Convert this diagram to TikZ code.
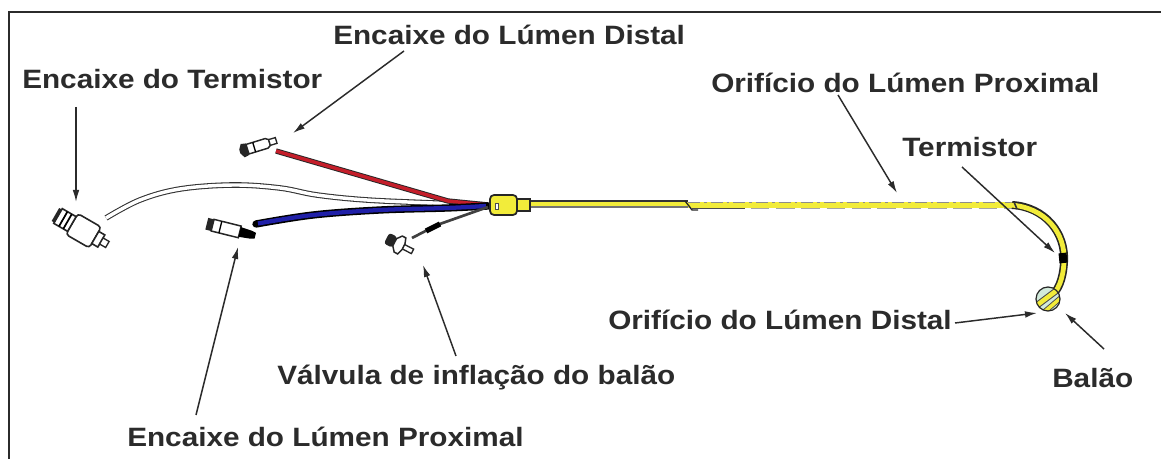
\documentclass[tikz,border=0pt]{standalone}
\usepackage{fontspec}
\setmainfont{Liberation Sans}[FakeStretch=1.12]
\usetikzlibrary{arrows.meta}
\definecolor{ink}{HTML}{2B2B2B}
\definecolor{tubeyellow}{HTML}{F2EC3A}
\definecolor{tubered}{HTML}{C41E2A}
\definecolor{tubeblue}{HTML}{2020A8}
\definecolor{balloonfill}{HTML}{D2EADB}

\begin{document}
\begin{tikzpicture}[x=0.75pt,y=-0.75pt,
  lbl/.style={anchor=base west,inner sep=0pt,text=ink,
    font=\fontsize{19.9pt}{24pt}\selectfont\bfseries},
  pointer/.style={draw=ink,line width=1.1pt,-{Latex[length=9pt,width=5pt]}},
  outline/.style={draw=black!85,line width=1pt},
]
\useasboundingbox (0,0) rectangle (1161,459);
\clip (0,0) rectangle (1161,459);
\fill[white] (0,0) rectangle (1161,459);

% frame
\draw[ink,line width=1.5pt] (8.5,470) -- (8.5,12.5) -- (1175,12.5);

% ---------- cables on the left ----------
% thermistor cable (white, outlined)
\draw[black!80,line width=0.8pt,double=white,double distance=2.6pt]
  plot[smooth,tension=0.6] coordinates {(106,218) (140,200) (180,189) (233,185) (280,188) (317,195) (367,200) (433,203) (488,205)};
% distal lumen line (red)
\draw[black!85,line width=0.7pt,double=tubered,double distance=2.6pt]
  (276,151) -- (448,201) -- (488,205);
% proximal lumen line (blue)
\draw[black,line width=5.5pt,line cap=round]
  plot[smooth,tension=0.6] coordinates {(256,224) (313,215) (380,210) (447,208) (488,206)};
\draw[tubeblue,line width=3.2pt]
  plot[smooth,tension=0.6] coordinates {(258,223.5) (313,215) (380,210) (447,208) (486,206)};
% balloon inflation line
\draw[black!75,line width=2pt] (412,238) -- (437,225) -- (488,207);
\draw[black,line width=4pt] (426,231) -- (440,224);

% ---------- fittings ----------
% thermistor connector
\begin{scope}[shift={(84,231)},rotate=-30]
  \draw[outline,fill=white,line width=1.2pt,rounded corners=2.5pt] (-14,-12) rectangle (13,12);
  \draw[outline,fill=white,line width=1.2pt] (13,-7) rectangle (20,7);
  \draw[outline,fill=white] (20,-3.5) rectangle (27,3.5);
  \draw[outline,fill=white,line width=1.2pt] (-14,-8.5) rectangle (-30,8.5);
  \draw[black,line width=1.3pt] (-19,-8.5) -- (-19,8.5) (-24,-8.5) -- (-24,8.5);
  \fill[black!85] (-30,-7.5) rectangle (-33,7.5);
\end{scope}
% distal lumen fitting
\begin{scope}[shift={(258,146)},rotate=17]
  \draw[outline,fill=white,line width=1.1pt] (-11,-5) -- (9,-5) -- (12,-3) -- (12,3) -- (9,5) -- (-11,5) -- cycle;
  \draw[outline,fill=white] (12,-3) rectangle (19,3);
  \fill[black!85] (-19,-2) -- (-16,-7) -- (-11,-6) -- (-11,6) -- (-16,7) -- (-19,2) -- cycle;
  \draw[black,line width=1pt] (-4,-5) -- (-4,5);
\end{scope}
% proximal lumen fitting
\begin{scope}[shift={(232,230)},rotate=-14]
  \draw[outline,fill=white,line width=1.1pt] (-20,-6) rectangle (8,6);
  \fill[black!85] (-26,-6) rectangle (-20,6);
  \fill[black] (8,-5) -- (20,-4) -- (24,-3) -- (24,3) -- (20,4) -- (8,5) -- cycle;
  \draw[black,line width=1pt] (-12,-6) -- (-12,6);
\end{scope}
% balloon inflation valve
\begin{scope}[shift={(400,245)},rotate=-27]
  \fill[black!85,rounded corners=2pt] (-15,-6) rectangle (-6,6);
  \draw[outline,fill=white,line width=1.1pt] (-6,-4) -- (-2,-9) -- (2,-9) -- (4,-3) -- (4,3) -- (2,9) -- (-2,9) -- (-6,4) -- cycle;
  \draw[outline,fill=white] (4,-2.5) rectangle (14,2.5);
\end{scope}

% ---------- hub and shaft ----------
\fill[tubeyellow] (530,201) rectangle (688,207);
\draw[black!80,line width=1.6pt] (530,201) -- (688,201);
\draw[black!55,line width=0.9pt] (530,207) -- (688,207);
\fill[tubeyellow] (688,202) rectangle (1014,208);
\draw[black!45,line width=0.7pt,dash pattern=on 9pt off 3pt on 2pt off 3pt] (688,202) -- (1014,202);
\draw[black!35,line width=0.6pt,dash pattern=on 14pt off 5pt] (700,208) -- (1014,208);
\draw[black!85,line width=1pt] (685,201) -- (689,206) -- (692,210) -- (698,210);
\draw[black!70,line width=0.9pt] (692,208.5) -- (745,208.5);
% hub
\draw[outline,fill=tubeyellow,line width=1.2pt] (517,199) rectangle (530,211);
\draw[outline,fill=tubeyellow,line width=1.3pt,rounded corners=3pt] (490,195) rectangle (517,215);
\draw[black!70,fill=white,line width=0.6pt] (495,203) rectangle (498,209);

% ---------- curved tip and balloon ----------
\draw[black!85,line width=6pt]
  (1012,205) .. controls (1045,207) and (1066,233) .. (1064,262) .. controls (1063,280) and (1058,291) .. (1050,297);
\draw[tubeyellow,line width=3.6pt]
  (1010,205) .. controls (1045,207) and (1066,233) .. (1064,262) .. controls (1063,280) and (1058,291) .. (1050,297);
\draw[black,line width=6pt] (1062.5,253) -- (1063.5,263);
\draw[black!80,line width=1.2pt] (1014,202) -- (1017,209);
\begin{scope}
  \clip (1048,299) circle (12);
  \fill[balloonfill] (1048,299) circle (12);
  \draw[black!70,line width=5pt] (1060,288) -- (1036,306);
  \draw[tubeyellow,line width=3.4pt] (1060,288) -- (1036,306);
  \draw[black!70,line width=4pt] (1063,296) -- (1043,313);
  \draw[tubeyellow,line width=2.6pt] (1063,296) -- (1043,313);
\end{scope}
\draw[black!85,line width=0.9pt] (1048,299) circle (12);

% ---------- labels ----------
\node[lbl] (lDistFit)  at (333,45)  {Encaixe do Lúmen Distal};
\node[lbl] (lThermFit) at (22,89)   {Encaixe do Termistor};
\node[lbl] (lProxHole) at (711,93)  {Orifício do Lúmen Proximal};
\node[lbl] (lTherm)    at (902,157) {Termistor};
\node[lbl] (lDistHole) at (608,330) {Orifício do Lúmen Distal};
\node[lbl] (lBalloon)  at (1052,388){Balão};
\node[lbl] (lValve)    at (277,385) {Válvula de inflação do balão};
\node[lbl] (lProxFit)  at (127,447) {Encaixe do Lúmen Proximal};

% ---------- pointers ----------
\coordinate (tDistFit)  at (404,51);   \coordinate (hDistFit)  at (293,133);
\coordinate (tThermFit) at (76,107);   \coordinate (hThermFit) at (76,202);
\coordinate (tProxHole) at (838,95);   \coordinate (hProxHole) at (897,193);
\coordinate (tTherm)    at (962,167);  \coordinate (hTherm)    at (1055,253);
\coordinate (tDistHole) at (955,323);  \coordinate (hDistHole) at (1037,313);
\coordinate (tBalloon)  at (1104,349); \coordinate (hBalloon)  at (1065,313);
\coordinate (tValve)    at (456,356);  \coordinate (hValve)    at (423,265);
\coordinate (tProxFit)  at (196,415);  \coordinate (hProxFit)  at (238,247);

\draw[pointer] (tDistFit)  -- (hDistFit);
\draw[pointer] (tThermFit) -- (hThermFit);
\draw[pointer] (tProxHole) -- (hProxHole);
\draw[pointer] (tTherm)    -- (hTherm);
\draw[pointer] (tDistHole) -- (hDistHole);
\draw[pointer] (tBalloon)  -- (hBalloon);
\draw[pointer] (tValve)    -- (hValve);
\draw[pointer] (tProxFit)  -- (hProxFit);
\end{tikzpicture}
\end{document}
